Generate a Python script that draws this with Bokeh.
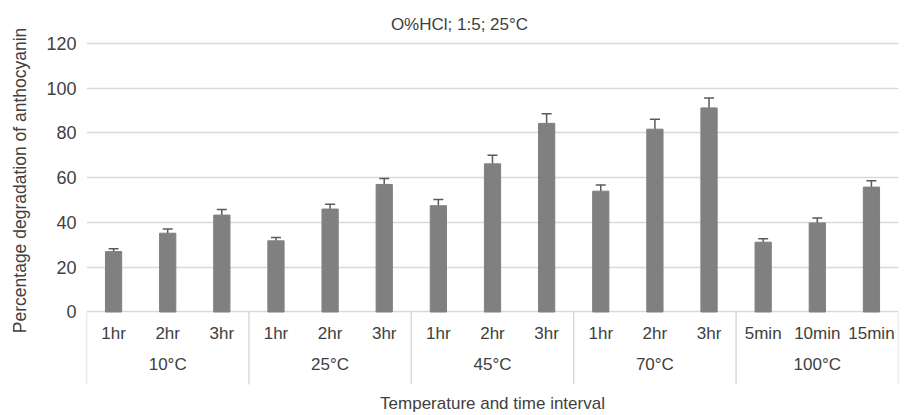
import math

from bokeh.plotting import figure
from bokeh.layouts import row
from bokeh.models import (FactorRange, Range1d, FixedTicker, Whisker,
                          TeeHead, ColumnDataSource)
from bokeh.core.properties import value
from bokeh.embed import file_html
from bokeh.resources import INLINE

# --- data -------------------------------------------------------------
temperatures = ["10°C", "25°C", "45°C", "70°C", "100°C"]
intervals = [
    ["1hr", "2hr", "3hr"],
    ["1hr", "2hr", "3hr"],
    ["1hr", "2hr", "3hr"],
    ["1hr", "2hr", "3hr"],
    ["5min", "10min", "15min"],
]
degradation = [27.0, 35.2, 43.3, 31.8, 46.0, 57.0, 47.5, 66.2, 84.3,
               54.0, 81.7, 91.2, 31.2, 39.8, 55.8]
std_error = [1.3, 1.9, 2.5, 1.5, 2.2, 2.7, 2.8, 3.8, 4.3,
             2.8, 4.4, 4.4, 1.5, 2.2, 2.9]
y_ticks = [0, 20, 40, 60, 80, 100, 120]

chart_title = "O%HCl; 1:5; 25°C"
x_title = "Temperature and time interval"
y_title = "Percentage degradation of anthocyanin"

# --- styling ----------------------------------------------------------
FONT = "Liberation Sans"
TEXT = "#404040"
GRID = "#d9d9d9"
BAR = "#808080"
ERR = "#5a5a5a"
Y_MIN, Y_MAX = 0, 120
# the frame runs over the whole height; the value axis keeps 0..120 and the
# space above and below holds the title and the category label rows
Y_TOP = 139.2
Y_BOTTOM = -46.26
SEP_BOTTOM = -32.4
TITLE_STRIP = 40          # width of the strip holding the value-axis title

factors = [(t, i) for t, ints in zip(temperatures, intervals) for i in ints]
n = len(factors)

bars = ColumnDataSource(dict(
    x=factors,
    top=degradation,
    upper=[v + e for v, e in zip(degradation, std_error)],
    lower=[v - e for v, e in zip(degradation, std_error)],
))

y_range = Range1d(Y_BOTTOM, Y_TOP)

p = figure(
    width=905 - TITLE_STRIP, height=415,
    x_range=FactorRange(*factors, factor_padding=0, group_padding=0,
                        range_padding=0),
    y_range=y_range,
    output_backend="svg", toolbar_location=None,
    min_border_left=86 - TITLE_STRIP, min_border_right=7,
    min_border_top=0, min_border_bottom=0,
)
p.outline_line_color = None
p.background_fill_color = "white"
p.border_fill_color = "white"

# value axis: labels only, spanning 0..120
p.yaxis.bounds = (Y_MIN, Y_MAX)
p.yaxis.ticker = FixedTicker(ticks=y_ticks)
p.yaxis.axis_line_color = None
p.yaxis.major_tick_line_color = None
p.yaxis.minor_tick_line_color = None
p.yaxis.major_tick_out = 0
p.yaxis.major_tick_in = 0
p.yaxis.minor_tick_out = 0
p.yaxis.major_label_standoff = 10
p.yaxis.major_label_text_font = FONT
p.yaxis.major_label_text_font_size = "18px"
p.yaxis.major_label_text_color = TEXT

p.ygrid.ticker = FixedTicker(ticks=y_ticks)
p.ygrid.grid_line_color = GRID
p.ygrid.grid_line_width = 1.5
p.xgrid.grid_line_color = None
p.xaxis.visible = False

# bars and error bars
p.vbar(x="x", top="top", width=0.3, source=bars, fill_color=BAR,
       line_color=BAR)
p.add_layout(Whisker(
    base="x", upper="upper", lower="lower", source=bars,
    line_color=ERR, line_width=1.5,
    upper_head=TeeHead(size=10, line_color=ERR, line_width=1.5),
    lower_head=TeeHead(size=10, line_color=ERR, line_width=1.5),
))

# two-level category labels under the zero line
p.text(x=factors, y=[-9.6] * n, text=[f[1] for f in factors],
       text_font=value(FONT), text_font_size="17px", text_color=TEXT,
       text_align="center", text_baseline="middle")

group_mid = [(t, ints[len(ints) // 2]) for t, ints in zip(temperatures, intervals)]
p.text(x=group_mid, y=[-23.5] * len(group_mid), text=temperatures,
       text_font=value(FONT), text_font_size="17px", text_color=TEXT,
       text_align="center", text_baseline="middle")

# vertical separators framing each temperature group
sep_x = [(t, ints[0], -0.5) for t, ints in zip(temperatures, intervals)]
sep_x.append((temperatures[-1], intervals[-1][-1], 0.5))
p.segment(x0=sep_x, x1=sep_x, y0=[0] * len(sep_x),
          y1=[SEP_BOTTOM] * len(sep_x), line_color=GRID, line_width=1.5)

# chart title and category-axis title
p.text(x=[6.89], y=[128.4], text=[chart_title],
       text_font=value(FONT), text_font_size="17px", text_color=TEXT,
       text_align="center", text_baseline="middle")
p.text(x=[n / 2], y=[-41.1], text=[x_title],
       text_font=value(FONT), text_font_size="17px", text_color=TEXT,
       text_align="center", text_baseline="middle")

# narrow strip on the left carrying the rotated value-axis title
strip = figure(
    width=TITLE_STRIP, height=415,
    x_range=Range1d(0, TITLE_STRIP), y_range=y_range,
    x_axis_type=None, y_axis_type=None,
    output_backend="svg", toolbar_location=None,
    min_border_left=0, min_border_right=0,
    min_border_top=0, min_border_bottom=0,
)
strip.outline_line_color = None
strip.grid.visible = False
strip.background_fill_color = "white"
strip.border_fill_color = "white"
strip.text(x=[19.5], y=[(Y_MIN + Y_MAX) / 2 - 1.2], text=[y_title],
           angle=math.pi / 2, text_font=value(FONT),
           text_font_size="17.5px", text_color=TEXT,
           text_align="center", text_baseline="middle")

layout = row(strip, p, spacing=0)
open("out.html", "w").write(file_html(layout, INLINE))
